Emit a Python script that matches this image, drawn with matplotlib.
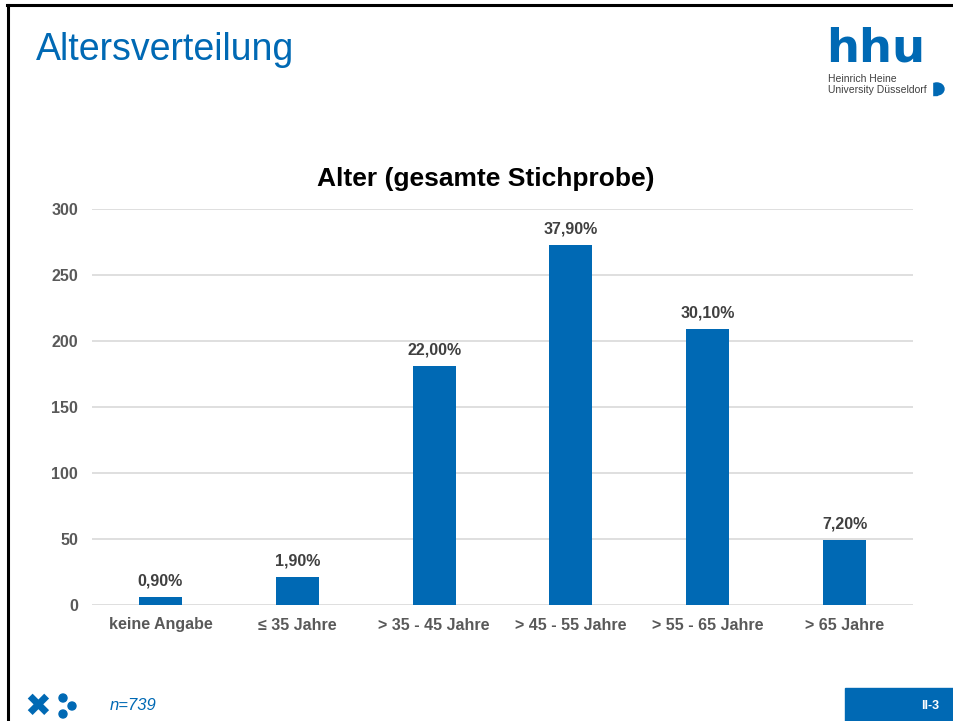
import numpy as np
import matplotlib
matplotlib.use("Agg")
import matplotlib.pyplot as plt
import matplotlib.patches as patches
from matplotlib.lines import Line2D

plt.rcParams['font.family'] = ['Liberation Sans', 'DejaVu Sans']

# data
categories = ["keine Angabe", "≤ 35 Jahre", "> 35 - 45 Jahre", "> 45 - 55 Jahre",
              "> 55 - 65 Jahre", "> 65 Jahre"]
counts = [6, 21, 181, 273, 209, 49]
pct_labels = ["0,90%", "1,90%", "22,00%", "37,90%", "30,10%", "7,20%"]
y_ticks = [0, 50, 100, 150, 200, 250, 300]

W, H = 954, 721
blue = '#0069B4'

fig = plt.figure(figsize=(W / 100, H / 100), dpi=100)

def fx(px):
    return px / W

def fy(py):
    return 1 - py / H

# --- chart ---
ax = fig.add_axes([fx(92), fy(605), fx(913) - fx(92), fy(209) - fy(605)])
x = np.arange(len(categories))
ax.bar(x, counts, width=0.315, color=blue, zorder=3)
for xi, c, lab in zip(x, counts, pct_labels):
    ax.annotate(lab, (xi, c), xytext=(0, 6), textcoords='offset points',
                ha='center', va='bottom', fontsize=11.5, fontweight='bold', color='#404040')

ax.set_xlim(-0.5, len(categories) - 0.5)
ax.set_ylim(0, 300)
ax.set_yticks(y_ticks)
ax.set_xticks(x)
ax.set_xticklabels(categories)
ax.yaxis.grid(True, color='#D9D9D9', linewidth=1.2, zorder=0)
ax.set_axisbelow(True)
for s in ax.spines.values():
    s.set_visible(False)
ax.tick_params(axis='both', length=0, labelsize=11.5, colors='#595959')
ax.tick_params(axis='x', pad=9)
ax.tick_params(axis='y', pad=10)
for t in ax.get_xticklabels() + ax.get_yticklabels():
    t.set_fontweight('bold')

fig.text(fx(486), fy(179), "Alter (gesamte Stichprobe)", ha='center', va='center',
         fontsize=19, fontweight='bold', color='black')

# --- slide decorations ---
fig.add_artist(Line2D([fx(7), fx(954)], [fy(5), fy(5)], color='black', linewidth=2.2))
fig.add_artist(Line2D([fx(8), fx(8)], [fy(5), fy(721)], color='black', linewidth=2.2))

fig.text(fx(36), fy(50), "Altersverteilung", ha='left', va='center',
         fontsize=27, color=blue)

# hhu logo
fig.text(fx(826), fy(62), "hhu", ha='left', va='baseline', fontsize=33.5,
         fontweight='bold', color=blue, family=['DejaVu Sans'])
fig.text(fx(828), fy(74), "Heinrich Heine\nUniversity Düsseldorf", ha='left', va='top',
         fontsize=7.5, color='#404040', linespacing=1.1)
fig.add_artist(patches.Rectangle((fx(932), fy(95)), fx(5), fy(83) - fy(95), color=blue,
                                 transform=fig.transFigure))
fig.add_artist(patches.Ellipse((fx(937), fy(89)), fx(14), 12 / H, color=blue,
                               transform=fig.transFigure))
fig.add_artist(patches.Rectangle((fx(926), fy(96)), fx(6), 14 / H, color='white',
                                 transform=fig.transFigure))

# bottom left logo
fig.text(fx(38), fy(707), "✖", ha='center', va='center', fontsize=23, color=blue,
         family=['DejaVu Sans'])
for cx, cy in [(63, 698), (72, 706), (63, 714)]:
    fig.add_artist(patches.Ellipse((fx(cx), fy(cy)), fx(8), 8 / H, color=blue,
                                   transform=fig.transFigure))

fig.text(fx(110), fy(706), "n=739", ha='left', va='center', fontsize=12,
         style='italic', color=blue)

# page number box
fig.add_artist(patches.Rectangle((fx(845), 0), fx(954) - fx(845), fy(688), color=blue,
                                 transform=fig.transFigure))
fig.text(fx(930), fy(706), "II-3", ha='center', va='center', fontsize=9,
         fontweight='bold', color='white')

fig.savefig("out.png", dpi=100)
